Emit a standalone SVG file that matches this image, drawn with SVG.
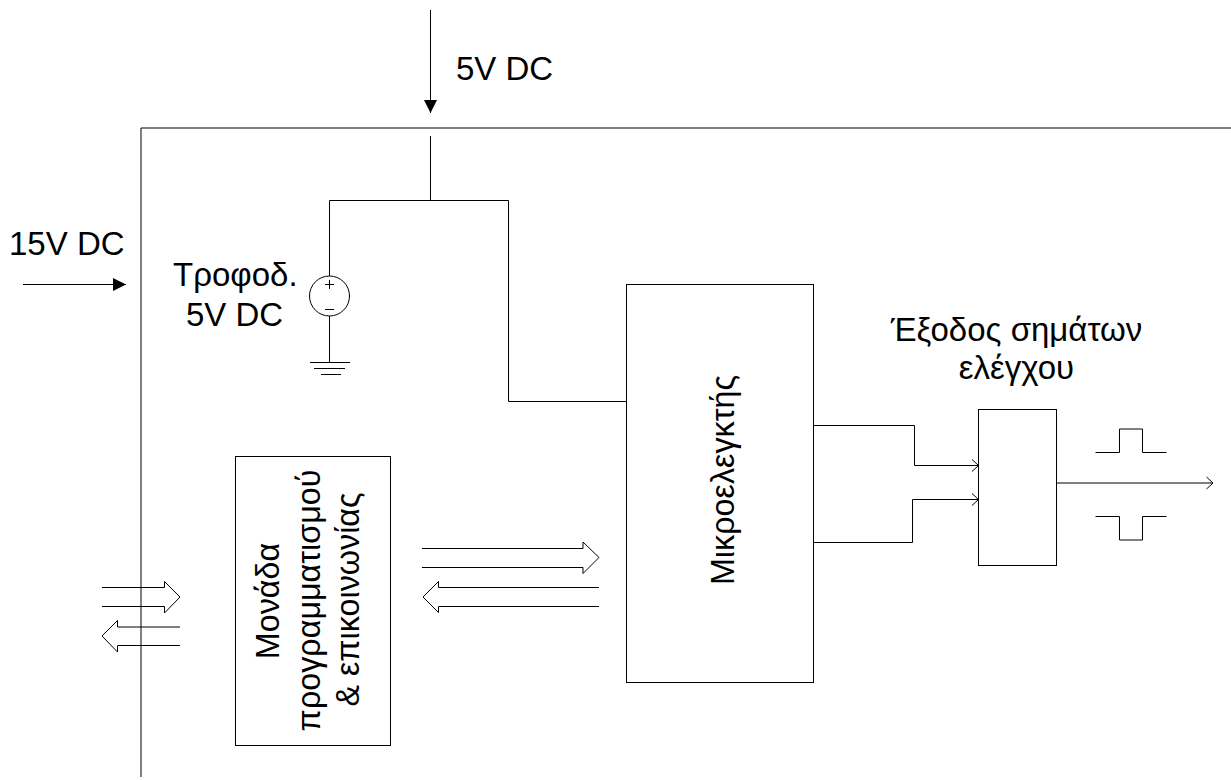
<svg xmlns="http://www.w3.org/2000/svg" width="1231" height="780" viewBox="0 0 1231 780">
<style>
text{font-family:"Liberation Sans",Arial,sans-serif;font-size:33px;fill:#000}
.r{font-size:32.300px}
.m{text-anchor:middle}
.l{fill:none;stroke:#000;stroke-width:1}
.f{fill:#fff;stroke:#000;stroke-width:1}
</style>
<defs>
<marker id="solid" markerUnits="userSpaceOnUse" markerWidth="14" markerHeight="14" refX="13" refY="6.5" orient="auto"><path d="M0 0L13 6.5L0 13Z" fill="#000"/></marker>
<marker id="open" markerUnits="userSpaceOnUse" markerWidth="8" markerHeight="14" refX="7" refY="7" orient="auto"><path d="M0.5 1L7 7L0.5 13" fill="none" stroke="#000"/></marker>
</defs>
<rect width="1231" height="780" fill="#fff"/>
<g id="frame"><path class="l" d="M1231 128H141V777"/></g>
<g id="connectors">
<path class="l" d="M430.500 10V113" marker-end="url(#solid)"/>
<path class="l" d="M23 284.500H126" marker-end="url(#solid)"/>
<path class="l" d="M430.500 136V200.500"/>
<path class="l" d="M329.500 276V200.500H508.500V401.500H626"/>
<path class="l" d="M814 425.500H914.500V465.500H978.500" marker-end="url(#open)"/>
<path class="l" d="M814 542.500H912.500V499.500H978.500" marker-end="url(#open)"/>
<path class="l" d="M1056.500 483H1213" marker-end="url(#open)"/>
<path class="l" d="M422 548.500H583V542L599 557.500L583 573.500V567.500H422"/>
<path class="l" d="M599 587.500H438.500V581.500L423 597L438.500 612.500V606.500H599"/>
<path class="l" d="M102 587.500H164.500V581.500L180 597L164.500 613V606.500H102"/>
<path class="l" d="M180 627H117.500V620.500L102 636L117.500 652V645.500H180"/>
</g>
<g id="source">
<circle class="l" cx="329.500" cy="296" r="20"/>
<path class="l" d="M325 284.500H334M329.500 280V289M325 309.500H334M329.500 316V362.500M310 362.500H350M314 368.500H345M321 374.500H341"/>
</g>
<g id="label-5v"><text x="456" y="80">5V DC</text></g>
<g id="label-15v"><text x="9" y="254.500">15V DC</text></g>
<g id="label-supply"><text x="173" y="285.500">Τροφοδ.</text><text x="186" y="326">5V DC</text></g>
<g id="mcu"><rect class="f" x="626.500" y="284.500" width="187" height="398"/>
<text class="m r" transform="translate(734 480) rotate(-90)">Μικροελεγκτής</text></g>
<g id="prog"><rect class="f" x="235.500" y="456.500" width="155" height="289"/>
<text class="m r" transform="translate(279 601) rotate(-90)">Μονάδα</text>
<text class="m r" transform="translate(320 600.500) rotate(-90)">προγραμματισμού</text>
<text class="m r" transform="translate(358.500 599.500) rotate(-90)">&amp; επικοινωνίας</text></g>
<g id="output"><rect class="f" x="978.500" y="409.500" width="78" height="156"/>
<path class="l" d="M1095.500 452.500H1119.500V429H1142.500V452.500H1166.500M1095.500 516.500H1119.500V540H1142.500V516.500H1166.500"/></g>
<g id="label-output"><text class="m" x="1016.500" y="341">Έξοδος σημάτων</text><text class="m" x="1016.500" y="379">ελέγχου</text></g>
</svg>
